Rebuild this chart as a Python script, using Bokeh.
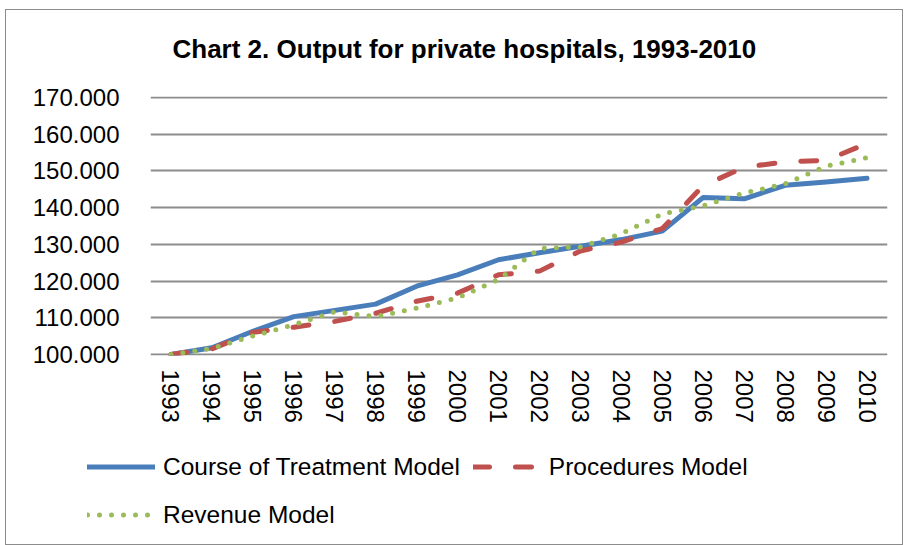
from bokeh.plotting import figure
from bokeh.layouts import column
from bokeh.models import (FactorRange, Range1d, Legend, LegendItem, FixedTicker,
                          NumeralTickFormatter, Label)
from bokeh.embed import file_html
from bokeh.resources import INLINE

years = [str(y) for y in range(1993, 2011)]
course_of_treatment = [100.0, 101.8, 106.3, 110.3, 112.0, 113.7, 118.6, 121.7, 125.8, 127.7,
                       129.5, 131.3, 133.6, 142.8, 142.4, 146.1, 147.0, 148.0]
procedures = [100.0, 101.5, 106.0, 107.4, 109.0, 111.2, 114.5, 116.7, 121.7, 122.7,
              128.2, 130.6, 134.3, 146.0, 151.0, 152.5, 152.9, 157.5]
revenue = [100.0, 101.6, 105.0, 108.1, 111.6, 110.3, 112.6, 115.4, 120.4, 128.9,
           129.3, 132.9, 138.3, 140.5, 144.0, 146.5, 151.3, 153.6]
y_ticks = [100, 110, 120, 130, 140, 150, 160, 170]
title_text = "Chart 2. Output for private hospitals, 1993-2010"
labels = ["Course of Treatment Model", "Procedures Model", "Revenue Model"]

FONT = "Liberation Sans"
STYLES = [
    dict(line_color="#4a7ebb", line_width=5, line_join="round", line_cap="round"),
    dict(line_color="#c0504d", line_width=5, line_dash="16 26", line_cap="round", line_join="round"),
    dict(line_color="#9bbb59", line_width=5, line_dash="0 12", line_cap="round", line_join="round"),
]
SERIES = [course_of_treatment, procedures, revenue]


def strip(height):
    f = figure(width=896, height=height, output_backend="svg", toolbar_location=None,
               x_range=FactorRange(*years, range_padding=0), y_range=Range1d(0, 1),
               min_border_left=0, min_border_right=0, min_border_top=0, min_border_bottom=0)
    f.axis.visible = False
    f.grid.visible = False
    f.outline_line_color = None
    f.border_fill_color = "white"
    f.background_fill_color = "white"
    if "frame_align" in f.properties():
        f.frame_align = False
    return f


# header strip with the chart title
p0 = strip(60)
p0.add_layout(Label(x=166, y=22, x_units="screen", y_units="screen", text=title_text,
                    text_font=FONT, text_font_size="26px", text_font_style="bold",
                    text_color="black", text_align="left", text_baseline="middle"))

# main plot
p = figure(width=896, height=370, output_backend="svg", toolbar_location=None,
           x_range=FactorRange(*years, range_padding=0), y_range=Range1d(99.7, 170.3),
           min_border_left=144, min_border_right=15, min_border_top=26, min_border_bottom=85)
p.outline_line_color = None
p.background_fill_color = "white"
p.border_fill_color = "white"
if "frame_align" in p.properties():
    p.frame_align = False

for series, st in zip(SERIES, STYLES):
    p.line(years, series, **st)

p.xgrid.grid_line_color = None
p.ygrid.grid_line_color = "#8c8c8c"
p.ygrid.grid_line_width = 2
p.yaxis.ticker = FixedTicker(ticks=y_ticks)
p.yaxis.formatter = NumeralTickFormatter(format="0.000")

for ax in (p.xaxis[0], p.yaxis[0]):
    ax.axis_line_color = None
    ax.major_tick_line_color = None
    ax.minor_tick_line_color = None
    ax.major_tick_out = 0
    ax.major_tick_in = 0
    ax.minor_tick_out = 0
    ax.major_label_text_font = FONT
    ax.major_label_text_font_size = "24px"
    ax.major_label_text_color = "black"
p.yaxis.major_label_standoff = 31
p.xaxis.major_label_orientation = "vertical"
p.xaxis.major_label_standoff = 14

# legend strip: same series drawn outside its visible range, only the legend shows
p2 = strip(104)
lr = [p2.line(years, series, **st) for series, st in zip(SERIES, STYLES)]

legend = Legend(items=[LegendItem(label=lab, renderers=[r]) for lab, r in zip(labels, lr)],
                location=(81, 12), orientation="horizontal", ncols=2,
                padding=0, margin=0, spacing=13, glyph_width=68, glyph_height=35,
                label_height=35, label_standoff=8,
                label_text_font=FONT, label_text_font_size="24.5px", label_text_color="black",
                border_line_color=None, background_fill_alpha=0)
p2.add_layout(legend, "center")

layout = column(p0, p, p2, spacing=0,
                styles={"border": "1px solid #8c8c8c", "margin-left": "5px", "margin-top": "9px"})

open("out.html", "w").write(file_html(layout, INLINE))
